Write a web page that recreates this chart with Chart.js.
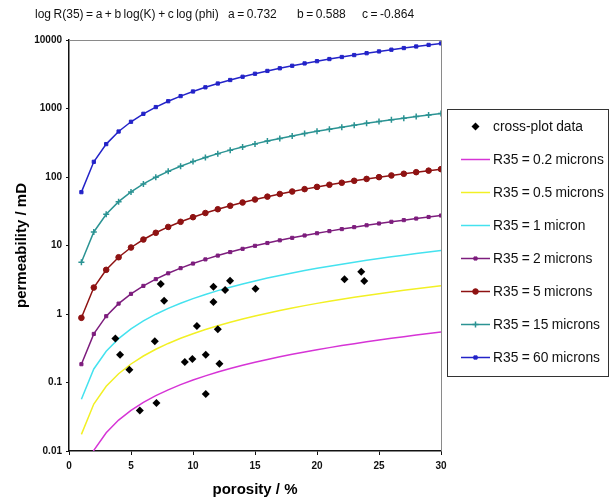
<!DOCTYPE html>
<html><head><meta charset="utf-8">
<script src="https://cdn.jsdelivr.net/npm/chart.js@4/dist/chart.umd.min.js"></script>
<style>html,body{margin:0;padding:0;background:#fff}#wrap{width:612px;height:501px}</style>
</head><body><div id="wrap"><canvas id="c" width="612" height="501"></canvas></div>
<script>
// ---------- data ----------
const porosity = [1,2,3,4,5,6,7,8,9,10,11,12,13,14,15,16,17,18,19,20,21,22,23,24,25,26,27,28,29,30];
const permR02 = [0.00368,0.0102,0.0185,0.0283,0.0392,0.0513,0.0643,0.0782,0.0930,0.1086,0.1249,0.1419,0.1597,0.1780,0.1970,0.2166,0.2368,0.2576,0.2788,0.3007,0.3230,0.3459,0.3692,0.3931,0.4173,0.4421,0.4673,0.4930,0.5191,0.5456];
const permR05 = [0.0175,0.0485,0.0880,0.1342,0.1863,0.2436,0.3055,0.3717,0.4419,0.5159,0.5934,0.6743,0.7585,0.8458,0.9360,1.029,1.125,1.224,1.325,1.429,1.535,1.643,1.754,1.867,1.983,2.101,2.220,2.342,2.466,2.592];
const permR1 = [0.0569,0.1576,0.2859,0.4363,0.6056,0.7916,0.9928,1.208,1.436,1.677,1.929,2.192,2.465,2.749,3.042,3.345,3.657,3.977,4.306,4.644,4.988,5.341,5.702,6.070,6.445,6.828,7.217,7.613,8.016,8.426];
const permR2 = [0.185,0.512,0.929,1.418,1.968,2.573,3.227,3.927,4.669,5.451,6.270,7.124,8.014,8.937,9.889,10.87,11.89,12.93,14.00,15.09,16.21,17.36,18.53,19.73,20.95,22.19,23.46,24.75,26.06,27.39];
const permR5 = [0.879,2.434,4.415,6.738,9.352,12.23,15.33,18.66,22.18,25.90,29.79,33.85,38.07,42.46,46.98,51.66,56.47,61.42,66.50,71.71,77.04,82.48,88.05,93.74,99.53,105.4,111.5,117.6,123.8,130.1];
const permR15 = [5.69,15.76,28.60,43.65,60.58,79.19,99.32,120.9,143.7,167.8,193.0,219.3,246.6,275.0,304.4,334.6,365.8,397.9,430.8,464.5,499.0,534.3,570.4,607.2,644.7,683.0,722.0,761.6,801.9,842.9];
const permR60 = [60.1,166.6,302.2,461.2,640.1,836.7,1049,1277,1518,1772,2039,2317,2606,2906,3216,3536,3865,4204,4551,4908,5273,5645,6027,6416,6812,7217,7628,8047,8473,8906];
const crossPorosity = [7.4,7.67,3.74,4.12,4.87,6.92,5.71,7.05,10.31,9.34,9.95,11.03,12.13,11.03,12.0,11.65,11.65,12.59,12.99,15.04,22.22,23.57,23.81];
const crossPerm = [2.74,1.56,0.44,0.255,0.154,0.40,0.039,0.050,0.67,0.199,0.22,0.255,0.188,0.068,0.60,2.50,1.50,2.24,3.06,2.34,3.21,4.15,3.03];
const seriesNames = ['cross-plot data','R35 = 0.2 microns','R35 = 0.5 microns','R35 = 1 micron','R35 = 2 microns','R35 = 5 microns','R35 = 15 microns','R35 = 60 microns'];
const yTickValues = [0.01,0.1,1,10,100,1000,10000];
const yTickLabels = ['0.01','0.1','1','10','100','1000','10000'];
const headerTexts = ['log R(35) = a + b log(K) + c log (phi)','a = 0.732','b = 0.588','c = -0.864'];
const xAxisTitle = 'porosity / %';
const yAxisTitle = 'permeability / mD';

// ---------- styling ----------
const colors = ['#000000','#d634d6','#f2f024','#44e2ef','#7d1d7d','#8e1212','#2b9393','#2323c8'];
const pStyles = ['rectRot',false,false,false,'rect','circle','cross','rect'];
const pRadius = [4,0,0,0,2.2,2.8,3,2.3];
const curves = [permR02,permR05,permR1,permR2,permR5,permR15,permR60];

const datasets = [{
  label: seriesNames[0],
  data: crossPorosity.map((x,i)=>({x:x,y:crossPerm[i]})),
  showLine:false, pointStyle:'rectRot', pointRadius:4, backgroundColor:'#000', borderColor:'#000', borderWidth:0
}];
curves.forEach((arr,k)=>{
  const i=k+1;
  datasets.push({
    label: seriesNames[i],
    data: porosity.map((x,j)=>({x:x,y:arr[j]})),
    showLine:true, borderColor:colors[i], backgroundColor:colors[i], borderWidth:1.5,
    pointStyle: pStyles[i]||'circle', pointRadius: pRadius[i], pointBorderWidth: pStyles[i]==='cross'?1.5:1,
    pointHoverRadius:0, tension:0, fill:false
  });
});

const decor = {
  id:'decor',
  beforeDraw(chart){
    const c=chart.ctx; c.save(); c.fillStyle='#fff'; c.fillRect(0,0,chart.width,chart.height); c.restore();
  },
  beforeDatasetsDraw(chart){
    const a=chart.chartArea, c=chart.ctx;
    c.save(); c.strokeStyle='#8a8a8a'; c.lineWidth=1;
    c.beginPath(); c.moveTo(a.left,a.top+0.5); c.lineTo(a.right+0.5,a.top+0.5); c.lineTo(a.right+0.5,a.bottom); c.stroke();
    c.restore();
  },
  afterDraw(chart){
    const c=chart.ctx;
    c.save();
    // header
    c.fillStyle='#111'; c.textBaseline='middle'; c.textAlign='left';
    c.font='12px "Liberation Sans", Arial, sans-serif';
    try{ c.wordSpacing='-0.8px'; }catch(e){}
    const hx=[35,228,297,362];
    headerTexts.forEach((t,i)=>c.fillText(t,hx[i],15));
    try{ c.wordSpacing='0px'; }catch(e){}
    // legend
    c.strokeStyle='#333'; c.lineWidth=1;
    c.strokeRect(447.5,109.5,161,267);
    c.font='13.8px "Liberation Sans", Arial, sans-serif';
    try{ c.wordSpacing='-0.5px'; }catch(e){}
    chart.data.datasets.forEach((ds,i)=>{
      const y=126.5+i*33;
      if(ds.showLine){
        c.strokeStyle=ds.borderColor; c.lineWidth=1.5;
        c.beginPath(); c.moveTo(461,y); c.lineTo(490,y); c.stroke();
      }
      if(ds.pointRadius>0){
        c.fillStyle=ds.backgroundColor; c.strokeStyle=ds.borderColor;
        c.lineWidth = ds.pointBorderWidth||1;
        Chart.helpers.drawPoint(c,{pointStyle:ds.pointStyle,rotation:0,radius:ds.pointRadius,borderWidth:ds.pointBorderWidth||0},475.5,y);
      }
      c.fillStyle='#111'; c.textBaseline='middle'; c.textAlign='left';
      c.fillText(ds.label,493,y+0.5);
    });
    c.restore();
  }
};

new Chart(document.getElementById('c'),{
  type:'scatter',
  data:{datasets:datasets},
  options:{
    responsive:false, animation:false, devicePixelRatio:1,
    layout:{padding:{left:0,top:40,right:171,bottom:0}},
    plugins:{legend:{display:false},tooltip:{enabled:false}},
    elements:{line:{borderWidth:1.5}},
    scales:{
      x:{type:'linear',min:0,max:30,
        afterFit(s){s.height=50;},
        ticks:{stepSize:5,color:'#111',font:{size:10,weight:'bold',family:'"Liberation Sans", Arial'},padding:5,maxRotation:0},
        grid:{drawOnChartArea:false,drawTicks:true,tickLength:4,color:'#111'},
        border:{display:true,color:'#111',width:1.5},
        title:{display:true,text:xAxisTitle,color:'#000',font:{size:15,weight:'bold',family:'"Liberation Sans", Arial'},padding:{top:0,bottom:2}}
      },
      y:{type:'logarithmic',min:0.01,max:10000,
        afterFit(s){s.width=69;},
        afterBuildTicks(s){s.ticks=yTickValues.map(v=>({value:v}));},
        ticks:{color:'#111',font:{size:10,weight:'bold',family:'"Liberation Sans", Arial'},padding:4,
          callback:(v)=>{const i=yTickValues.indexOf(v);return i>=0?yTickLabels[i]:'';}},
        grid:{drawOnChartArea:false,drawTicks:true,tickLength:3,color:'#111'},
        border:{display:true,color:'#111',width:1.5},
        title:{display:true,text:yAxisTitle,color:'#000',font:{size:15,weight:'bold',family:'"Liberation Sans", Arial'},padding:{top:13,bottom:0}}
      }
    }
  },
  plugins:[decor]
});
</script></body></html>
